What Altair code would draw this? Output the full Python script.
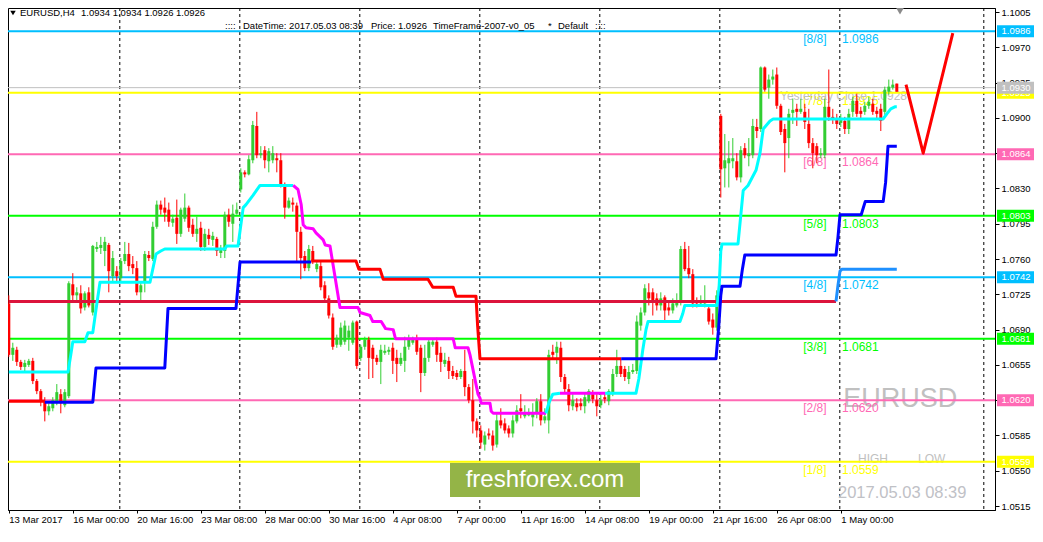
import altair as alt
import pandas as pd

FONT = "Liberation Sans"
GREEN = "#32CD32"
RED = "#FF0000"

# ---------------- data (EURUSD H4, bar index 0 = 13 Mar 2017 08:00) ----------------
opens = [1.0716,1.0665,1.0670,1.0658,1.0653,1.0655,1.0659,1.0639,1.0629,1.0619,
1.0609,1.0612,1.0617,1.0626,1.0615,1.0624,1.0735,1.0724,1.0726,1.0712,
1.0727,1.0707,1.0770,1.0771,1.0768,1.0774,1.0743,1.0748,1.0741,1.0758,
1.0765,1.0755,1.0751,1.0727,1.0738,1.0764,1.0760,1.0792,1.0814,1.0811,
1.0809,1.0796,1.0801,1.0785,1.0800,1.0811,1.0794,1.0785,1.0791,1.0772,
1.0784,1.0779,1.0780,1.0766,1.0768,1.0804,1.0795,1.0805,1.0829,1.0846,
1.0844,1.0858,1.0892,1.0863,1.0868,1.0857,1.0858,1.0860,1.0858,1.0834,
1.0811,1.0816,1.0813,1.0787,1.0763,1.0751,1.0768,1.0750,1.0753,1.0734,
1.0721,1.0702,1.0675,1.0675,1.0678,1.0682,1.0677,1.0698,1.0662,1.0673,
1.0680,1.0672,1.0662,1.0658,1.0667,1.0668,1.0672,1.0662,1.0656,1.0659,
1.0673,1.0677,1.0680,1.0672,1.0647,1.0662,1.0675,1.0678,1.0667,1.0656,
1.0659,1.0649,1.0647,1.0643,1.0649,1.0633,1.0620,1.0599,1.0590,1.0576,
1.0587,1.0585,1.0576,1.0600,1.0597,1.0592,1.0587,1.0599,1.0612,1.0604,
1.0605,1.0603,1.0607,1.0619,1.0600,1.0600,1.0668,1.0667,1.0672,1.0643,
1.0631,1.0614,1.0617,1.0617,1.0614,1.0619,1.0626,1.0620,1.0615,1.0623,
1.0619,1.0626,1.0646,1.0654,1.0651,1.0641,1.0648,1.0649,1.0694,1.0707,
1.0727,1.0727,1.0721,1.0714,1.0722,1.0712,1.0709,1.0714,1.0717,1.0770,
1.0751,1.0745,1.0719,1.0716,1.0716,1.0711,1.0700,1.0692,1.0902,1.0850,
1.0855,1.0857,1.0857,1.0841,1.0870,1.0862,1.0863,1.0891,1.0889,1.0950,
1.0930,1.0938,1.0943,1.0912,1.0889,1.0880,1.0905,1.0909,1.0906,1.0906,
1.0894,1.0875,1.0872,1.0863,1.0863,1.0911,1.0901,1.0899,1.0895,1.0897,
1.0889,1.0906,1.0917,1.0907,1.0906,1.0912,1.0914,1.0907,1.0909,1.0906,
1.0926,1.0930,1.0934]

highs = [1.0724,1.0677,1.0673,1.0660,1.0660,1.0661,1.0662,1.0641,1.0631,1.0623,
1.0617,1.0623,1.0636,1.0631,1.0631,1.0738,1.0746,1.0732,1.0734,1.0728,
1.0732,1.0774,1.0777,1.0782,1.0782,1.0776,1.0768,1.0753,1.0761,1.0777,
1.0776,1.0763,1.0758,1.0738,1.0768,1.0768,1.0797,1.0818,1.0818,1.0821,
1.0816,1.0804,1.0819,1.0811,1.0825,1.0813,1.0800,1.0802,1.0797,1.0790,
1.0790,1.0787,1.0782,1.0774,1.0807,1.0810,1.0814,1.0816,1.0850,1.0848,
1.0863,1.0897,1.0906,1.0872,1.0872,1.0870,1.0872,1.0865,1.0865,1.0836,
1.0821,1.0821,1.0816,1.0792,1.0768,1.0774,1.0773,1.0758,1.0758,1.0738,
1.0724,1.0706,1.0685,1.0697,1.0699,1.0694,1.0699,1.0699,1.0675,1.0683,
1.0683,1.0675,1.0665,1.0675,1.0675,1.0673,1.0677,1.0670,1.0667,1.0683,
1.0685,1.0683,1.0685,1.0675,1.0675,1.0680,1.0680,1.0682,1.0673,1.0667,
1.0663,1.0654,1.0650,1.0651,1.0670,1.0636,1.0641,1.0602,1.0595,1.0589,
1.0592,1.0590,1.0607,1.0612,1.0602,1.0595,1.0605,1.0615,1.0626,1.0615,
1.0612,1.0617,1.0622,1.0626,1.0612,1.0670,1.0675,1.0678,1.0678,1.0646,
1.0636,1.0626,1.0622,1.0622,1.0628,1.0631,1.0630,1.0626,1.0626,1.0628,
1.0631,1.0651,1.0670,1.0661,1.0654,1.0654,1.0656,1.0704,1.0712,1.0735,
1.0736,1.0731,1.0726,1.0727,1.0724,1.0719,1.0721,1.0726,1.0773,1.0777,
1.0773,1.0750,1.0722,1.0724,1.0734,1.0714,1.0706,1.0729,1.0904,1.0884,
1.0877,1.0880,1.0865,1.0872,1.0875,1.0880,1.0899,1.0899,1.0951,1.0951,
1.0943,1.0948,1.0950,1.0914,1.0894,1.0909,1.0919,1.0914,1.0919,1.0914,
1.0909,1.0880,1.0875,1.0870,1.0919,1.0948,1.0909,1.0904,1.0904,1.0901,
1.0909,1.0921,1.0924,1.0911,1.0916,1.0921,1.0919,1.0911,1.0914,1.0931,
1.0938,1.0938,1.0934]

lows = [1.0663,1.0659,1.0654,1.0650,1.0648,1.0653,1.0636,1.0626,1.0614,1.0599,
1.0605,1.0609,1.0615,1.0607,1.0613,1.0622,1.0719,1.0719,1.0706,1.0709,
1.0712,1.0704,1.0767,1.0765,1.0753,1.0727,1.0738,1.0738,1.0738,1.0755,
1.0748,1.0745,1.0724,1.0719,1.0727,1.0758,1.0758,1.0790,1.0804,1.0797,
1.0792,1.0792,1.0775,1.0782,1.0797,1.0787,1.0782,1.0777,1.0768,1.0768,
1.0774,1.0773,1.0763,1.0761,1.0761,1.0792,1.0777,1.0804,1.0826,1.0841,
1.0843,1.0855,1.0860,1.0860,1.0850,1.0846,1.0855,1.0846,1.0831,1.0800,
1.0810,1.0807,1.0758,1.0740,1.0748,1.0748,1.0755,1.0747,1.0729,1.0718,
1.0701,1.0670,1.0672,1.0673,1.0675,1.0669,1.0675,1.0651,1.0659,1.0670,
1.0641,1.0642,1.0655,1.0636,1.0665,1.0665,1.0646,1.0638,1.0654,1.0648,
1.0670,1.0675,1.0665,1.0628,1.0644,1.0658,1.0673,1.0658,1.0648,1.0653,
1.0641,1.0641,1.0640,1.0641,1.0624,1.0617,1.0587,1.0583,1.0572,1.0570,
1.0581,1.0570,1.0573,1.0592,1.0587,1.0583,1.0583,1.0597,1.0602,1.0602,
1.0604,1.0594,1.0602,1.0595,1.0597,1.0587,1.0660,1.0656,1.0638,1.0628,
1.0609,1.0610,1.0609,1.0610,1.0607,1.0617,1.0617,1.0604,1.0612,1.0617,
1.0615,1.0624,1.0643,1.0643,1.0639,1.0636,1.0646,1.0646,1.0689,1.0704,
1.0714,1.0704,1.0709,1.0709,1.0699,1.0704,1.0706,1.0712,1.0714,1.0748,
1.0741,1.0712,1.0712,1.0714,1.0712,1.0695,1.0685,1.0689,1.0821,1.0831,
1.0831,1.0850,1.0838,1.0836,1.0860,1.0852,1.0860,1.0880,1.0886,1.0926,
1.0919,1.0933,1.0909,1.0883,1.0846,1.0860,1.0894,1.0892,1.0904,1.0889,
1.0870,1.0850,1.0855,1.0860,1.0860,1.0897,1.0894,1.0889,1.0891,1.0884,
1.0884,1.0901,1.0901,1.0899,1.0903,1.0909,1.0903,1.0899,1.0887,1.0903,
1.0923,1.0928,1.0926]

closes = [1.0665,1.0672,1.0658,1.0653,1.0657,1.0659,1.0639,1.0629,1.0620,1.0609,
1.0614,1.0620,1.0628,1.0617,1.0628,1.0736,1.0724,1.0727,1.0711,1.0726,
1.0714,1.0773,1.0772,1.0774,1.0777,1.0748,1.0761,1.0743,1.0758,1.0765,
1.0753,1.0751,1.0727,1.0734,1.0765,1.0761,1.0792,1.0814,1.0809,1.0806,
1.0797,1.0800,1.0785,1.0809,1.0811,1.0791,1.0785,1.0790,1.0772,1.0785,
1.0780,1.0783,1.0768,1.0769,1.0804,1.0797,1.0805,1.0809,1.0846,1.0844,
1.0859,1.0893,1.0863,1.0865,1.0858,1.0867,1.0865,1.0858,1.0834,1.0811,
1.0818,1.0814,1.0787,1.0761,1.0751,1.0770,1.0758,1.0755,1.0732,1.0721,
1.0704,1.0673,1.0682,1.0692,1.0694,1.0689,1.0697,1.0654,1.0673,1.0680,
1.0662,1.0661,1.0658,1.0670,1.0669,1.0670,1.0659,1.0656,1.0662,1.0673,
1.0680,1.0680,1.0668,1.0647,1.0662,1.0678,1.0678,1.0665,1.0658,1.0660,
1.0649,1.0644,1.0643,1.0649,1.0633,1.0620,1.0599,1.0590,1.0578,1.0585,
1.0585,1.0575,1.0600,1.0595,1.0590,1.0587,1.0600,1.0610,1.0609,1.0608,
1.0608,1.0608,1.0619,1.0600,1.0604,1.0665,1.0665,1.0673,1.0643,1.0631,
1.0615,1.0620,1.0613,1.0614,1.0623,1.0629,1.0621,1.0614,1.0620,1.0621,
1.0629,1.0646,1.0654,1.0646,1.0643,1.0648,1.0650,1.0698,1.0707,1.0731,
1.0721,1.0717,1.0714,1.0721,1.0709,1.0709,1.0716,1.0719,1.0770,1.0750,
1.0745,1.0716,1.0716,1.0719,1.0719,1.0698,1.0692,1.0724,1.0849,1.0858,
1.0860,1.0860,1.0841,1.0868,1.0863,1.0865,1.0892,1.0887,1.0950,1.0928,
1.0938,1.0941,1.0912,1.0886,1.0875,1.0904,1.0908,1.0906,1.0909,1.0896,
1.0875,1.0865,1.0863,1.0865,1.0911,1.0901,1.0899,1.0894,1.0899,1.0889,
1.0904,1.0917,1.0904,1.0904,1.0912,1.0916,1.0906,1.0904,1.0897,1.0928,
1.0931,1.0933,1.0926]

x_labels = ["13 Mar 2017", "16 Mar 00:00", "20 Mar 16:00", "23 Mar 08:00", "28 Mar 00:00",
            "30 Mar 16:00", "4 Apr 08:00", "7 Apr 00:00", "11 Apr 16:00", "14 Apr 08:00",
            "19 Apr 00:00", "21 Apr 16:00", "26 Apr 08:00", "1 May 00:00"]
x_label_bars = [0, 16, 32, 48, 64, 80, 96, 112, 128, 144, 160, 176, 192, 208]
y_ticks = [1.0515, 1.0550, 1.0585, 1.0620, 1.0655, 1.0690, 1.0725, 1.0760,
           1.0795, 1.0830, 1.0865, 1.0900, 1.0935, 1.0970, 1.1005]
week_bars = [27.75, 57.75, 87.75, 117.75, 147.75, 177.75, 207.75, 243.75]

murrey_prices = [1.0986, 1.0925, 1.0864, 1.0803, 1.0742, 1.0681, 1.0620, 1.0559]
murrey_names = ["[8/8]", "[7/8]", "[6/8]", "[5/8]", "[4/8]", "[3/8]", "[2/8]", "[1/8]"]
murrey_colors = ["#00BFFF", "#FFFF00", "#FF69B4", "#00FF00", "#00BFFF", "#00FF00", "#FF69B4", "#FFFF00"]
bid_price = 1.0930
yesterday_close = "Yesterday Close 1.0928"

# trailing line (cyan rising / magenta falling): vertices (bar, price)
trail_segments = [
    [(0, 1.0648), (14.8, 1.0648), (15.5, 1.0665), (16, 1.0678), (19, 1.0678), (19.8, 1.0687),
     (21, 1.0687), (21.8, 1.0710), (22.8, 1.0737), (35.3, 1.0737), (36.8, 1.0765), (38, 1.0768),
     (39, 1.0770), (54, 1.0770), (54.5, 1.0773), (57.3, 1.0773), (58.6, 1.0811), (59.3, 1.0814),
     (61, 1.0823), (62.8, 1.0833), (71.1, 1.0833)],
    [(71.1, 1.0833), (72.3, 1.0829), (73.1, 1.0814), (73.6, 1.0794), (74.3, 1.0791), (76.1, 1.0790),
     (76.8, 1.0786), (78.6, 1.0779), (79.1, 1.0774), (80.3, 1.0773), (82.8, 1.0712), (87.3, 1.0712),
     (87.8, 1.0707), (90.3, 1.0704), (91, 1.0698), (93.1, 1.0698), (94.2, 1.0691), (96.1, 1.0690),
     (96.6, 1.0682), (96.8, 1.0681), (111.1, 1.0681), (111.6, 1.0672), (114.8, 1.0672),
     (115.3, 1.0665), (117.3, 1.0626), (117.8, 1.0622), (118.1, 1.0617), (120.3, 1.0617),
     (120.6, 1.0609), (121.1, 1.0607), (134.3, 1.0607)],
    [(134.3, 1.0607), (135, 1.0617), (136, 1.0626), (137.8, 1.0627)],
    [(137.8, 1.0627), (149.1, 1.0627)],
    [(149.1, 1.0627), (156.8, 1.0627), (157.5, 1.0641), (158.5, 1.0670), (159.3, 1.0690),
     (159.8, 1.0698), (167.8, 1.0698), (168.5, 1.0706), (169, 1.0714), (177.1, 1.0714),
     (177.6, 1.0734), (178, 1.0768), (178.3, 1.0775), (182.3, 1.0775), (183.6, 1.0828),
     (184.8, 1.0833), (186.8, 1.0848), (187.8, 1.0865), (188.6, 1.0889), (190.3, 1.0897),
     (191.1, 1.0899), (218.6, 1.0899), (219.5, 1.0904), (220.5, 1.0909), (221.5, 1.0911),
     (222, 1.0911)],
]
trail_colors = ["#00FFFF", "#FF00FF", "#00FFFF", "#FF00FF", "#00FFFF"]

# stepped stop line (red falling / blue rising)
stop_segments = [
    [(0, 1.0619), (9, 1.0619)],
    [(9, 1.0618), (21, 1.0618), (21.8, 1.0652), (39, 1.0652), (39.8, 1.0711), (56.8, 1.0711),
     (57.8, 1.0757), (75.6, 1.0757)],
    [(75.6, 1.0758), (86.8, 1.0758), (87.5, 1.0750), (92.8, 1.0750), (93.6, 1.0740), (104.8, 1.0740),
     (106, 1.0732), (111.1, 1.0732), (111.8, 1.0723), (116.8, 1.0723), (117.2, 1.0694),
     (117.8, 1.0661), (153.1, 1.0661)],
    [(153.1, 1.0661), (176.8, 1.0661), (177.5, 1.0694), (178, 1.0724), (178.3, 1.0733),
     (182.8, 1.0733), (183.4, 1.0750), (184, 1.0764), (206.8, 1.0764), (207.3, 1.0782),
     (207.8, 1.0804), (213.1, 1.0804), (214.1, 1.0817), (218.6, 1.0817), (219.2, 1.0836),
     (219.8, 1.0872), (222, 1.0872)],
]
stop_colors = ["#FF0000", "#0000FF", "#FF0000", "#0000FF"]

level_segments = [
    [(0, 1.0718), (206.8, 1.0718)],
    [(206.8, 1.0718), (207.3, 1.0734), (207.8, 1.0748), (208.3, 1.0750), (222, 1.0750)],
]
level_colors = ["#DC143C", "#1E90FF"]

forecast = [(224.3, 1.0933), (228.6, 1.0865), (236, 1.0984)]

# ---------------- layout ----------------
W, H = 987, 502
XS = alt.Scale(domain=[-0.2, 246.55], nice=False, zero=False)
YS = alt.Scale(domain=[1.05111, 1.1009], nice=False, zero=False)
label_expr = "[" + ",".join("'%s'" % s for s in x_labels) + "][round(datum.value/16)]"
XA = alt.Axis(values=x_label_bars, labelExpr=label_expr, tickSize=3, labelPadding=1,
              labelAlign="left", labelBaseline="top", labelFont=FONT, labelFontSize=9.5,
              labelColor="black", tickColor="black", domainColor="black", grid=False,
              labelOverlap=False, labelFlush=False, labelBound=False, title=None)
YA = alt.Axis(orient="right", values=y_ticks, format=".4f", tickSize=4, labelPadding=2,
              labelFont=FONT, labelFontSize=9.5, labelColor="black", tickColor="black",
              domainColor="black", grid=False, labelOverlap=False, labelFlush=False,
              labelBound=False, title=None)


def X(f):
    return alt.X(f, type="quantitative", scale=XS, axis=XA)


def Y(f):
    return alt.Y(f, type="quantitative", scale=YS, axis=YA)


ONE = pd.DataFrame({"a": [0]})

candles = pd.DataFrame({"i": list(range(len(opens))), "o": opens, "h": highs, "l": lows, "c": closes})
candles["col"] = [GREEN if c > o else RED for o, c in zip(opens, closes)]


def seg_frame(segs, cols):
    rows = []
    for s, pts in enumerate(segs):
        for k, (b, p) in enumerate(pts):
            rows.append({"i": b, "p": p, "seg": s, "k": k, "col": cols[s]})
    return pd.DataFrame(rows)


def line_layer(df, width=3):
    return alt.Chart(df).mark_line(strokeWidth=width, strokeJoin="round").encode(
        x=X("i"), y=Y("p"), detail="seg:N", order="k:Q",
        color=alt.Color("col:N", scale=None))


def ptext(t, x, y, size=9.5, color="black", align="left"):
    return alt.Chart(ONE).mark_text(text=t, align=align, baseline="middle", font=FONT,
                                    fontSize=size, color=color).encode(
        x=alt.value(x), y=alt.value(y))


layers = []
# weekly separators
layers.append(alt.Chart(pd.DataFrame({"i": week_bars})).mark_rule(
    strokeDash=[3, 3], color="black", strokeWidth=1).encode(x=X("i")))

# watermark texts
wm = pd.DataFrame({"i": [208.6], "p": [1.0620]})
layers.append(alt.Chart(wm).mark_text(text="EURUSD", align="left", baseline="middle", dy=-1,
                                      font=FONT, fontSize=27, color="#C0C0C0").encode(x=X("i"), y=Y("p")))
hl = pd.DataFrame({"i": [212.3, 227.3], "p": [1.0559, 1.0559], "t": ["HIGH", "LOW"]})
layers.append(alt.Chart(hl).mark_text(align="left", baseline="alphabetic", dy=1, font=FONT,
                                      fontSize=12, color="#C0C0C0").encode(x=X("i"), y=Y("p"), text="t:N"))
dt = pd.DataFrame({"i": [207.3], "p": [1.0528]})
layers.append(alt.Chart(dt).mark_text(text="2017.05.03 08:39", align="left", baseline="middle",
                                      font=FONT, fontSize=16.5, color="#BFC1C6").encode(x=X("i"), y=Y("p")))
ff = pd.DataFrame({"i": [110.3], "i2": [157.8], "p": [1.0558], "p2": [1.0524]})
layers.append(alt.Chart(ff).mark_rect(color="#94B447").encode(
    x=X("i"), x2="i2:Q", y=Y("p"), y2="p2:Q"))
fft = pd.DataFrame({"i": [134.05], "p": [1.0541]})
layers.append(alt.Chart(fft).mark_text(text="freshforex.com", align="center", baseline="middle",
                                       font=FONT, fontSize=24, color="white").encode(x=X("i"), y=Y("p")))

# Murrey level labels
mur = pd.DataFrame({"p": murrey_prices, "name": murrey_names, "col": murrey_colors,
                    "val": ["%.4f" % v for v in murrey_prices],
                    "i1": [198.6] * 8, "i2": [208.3] * 8})
layers.append(alt.Chart(mur).mark_text(align="left", baseline="middle", dy=8, font=FONT, fontSize=12).encode(
    x=X("i1"), y=Y("p"), text="name:N", color=alt.Color("col:N", scale=None)))
layers.append(alt.Chart(mur).mark_text(align="left", baseline="middle", dy=8, font=FONT, fontSize=12).encode(
    x=X("i2"), y=Y("p"), text="val:N", color=alt.Color("col:N", scale=None)))
yc = pd.DataFrame({"i": [192.8], "p": [bid_price]})
layers.append(alt.Chart(yc).mark_text(text=yesterday_close, align="left", baseline="middle", dy=8,
                                      font=FONT, fontSize=12, color="#C0C0C0").encode(x=X("i"), y=Y("p")))

# Murrey lines + bid line
layers.append(alt.Chart(mur).mark_rule(strokeWidth=2).encode(
    y=Y("p"), color=alt.Color("col:N", scale=None)))
layers.append(alt.Chart(pd.DataFrame({"p": [bid_price]})).mark_rule(
    strokeWidth=1, color="#C0C0C0").encode(y=Y("p")))

# candles
layers.append(alt.Chart(candles).mark_rule(strokeWidth=1).encode(
    x=X("i"), y=Y("l"), y2="h:Q", color=alt.Color("col:N", scale=None)))
layers.append(alt.Chart(candles).mark_rule(strokeWidth=3, strokeCap="butt").encode(
    x=X("i"), y=Y("o"), y2="c:Q", color=alt.Color("col:N", scale=None)))

# indicator lines
layers.append(line_layer(seg_frame(level_segments, level_colors), 3))
layers.append(line_layer(seg_frame(trail_segments, trail_colors), 3))
layers.append(line_layer(seg_frame(stop_segments, stop_colors), 3))
layers.append(line_layer(seg_frame([forecast], ["#FF0000"]), 3))

# header texts
layers.append(alt.Chart(ONE).mark_point(shape="triangle-down", filled=True, size=30,
                                        color="black", opacity=1).encode(x=alt.value(5), y=alt.value(5)))
layers.append(ptext("EURUSD,H4", 12, 5))
layers.append(ptext("1.0934 1.0934 1.0926 1.0926", 73, 5))
layers.append(ptext("::::", 217, 18))
layers.append(ptext("DateTime: 2017.05.03 08:39", 235, 18))
layers.append(ptext("Price: 1.0926", 363, 18))
layers.append(ptext("TimeFrame-2007-v0_05", 425, 18))
layers.append(ptext("*", 540, 18))
layers.append(ptext("Default", 550, 18))
layers.append(ptext("::::", 587, 18))
layers.append(alt.Chart(ONE).mark_point(shape="triangle-down", filled=True, size=70,
                                        color="#8A8A8A", opacity=1).encode(x=alt.value(892), y=alt.value(3)))

# right-side price boxes
box_prices = [1.0986, 1.0925, bid_price, 1.0864, 1.0803, 1.0742, 1.0681, 1.0620, 1.0559]
box_colors = ["#00BFFF", "#FFFF00", "#C0C0C0", "#FF69B4", "#00FF00", "#00BFFF", "#00FF00", "#FF69B4", "#FFFF00"]
boxes = pd.DataFrame({"p": box_prices, "col": box_colors, "t": ["%.4f" % v for v in box_prices]})
for k in range(len(boxes)):
    one = boxes.iloc[[k]]
    layers.append(alt.Chart(one).mark_rect(yOffset=-6, y2Offset=6).encode(
        x=alt.value(W + 2), x2=alt.value(W + 39), y=Y("p"), y2="p:Q",
        color=alt.Color("col:N", scale=None)))
    layers.append(alt.Chart(one).mark_text(align="center", baseline="middle", font=FONT,
                                           fontSize=9.5, color="white").encode(
        x=alt.value(W + 21), y=Y("p"), text="t:N"))

chart = alt.layer(*layers).properties(
    width=W, height=H,
    padding={"left": 0, "top": 0, "right": 40, "bottom": 18},
    autosize=alt.AutoSizeParams(type="none"),
    background="white",
).configure_view(stroke="black", strokeWidth=1)

chart.save("out.html", embed_options={"renderer": "svg", "actions": False})
